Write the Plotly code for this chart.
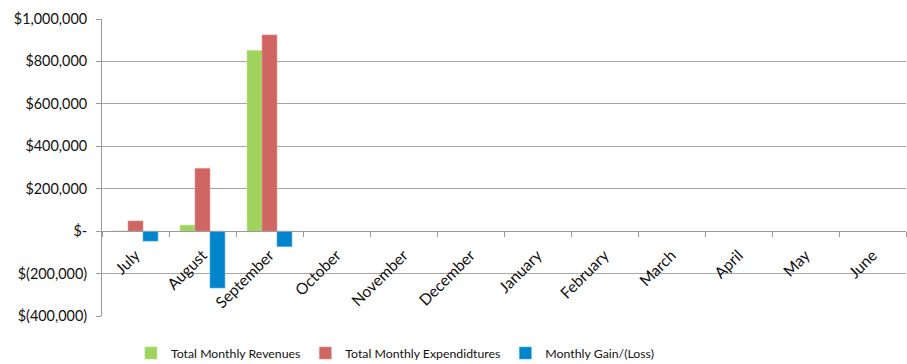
import plotly.graph_objects as go

months = ["July", "August", "September", "October", "November", "December",
          "January", "February", "March", "April", "May", "June"]
revenues = [0, 28000, 852000, None, None, None, None, None, None, None, None, None]
expenditures = [48000, 296000, 925000, None, None, None, None, None, None, None, None, None]
gain = [-47000, -268000, -73000, None, None, None, None, None, None, None, None, None]

ytick_vals = [1000000, 800000, 600000, 400000, 200000, 0, -200000, -400000]
ytick_text = ["$1,000,000", "$800,000", "$600,000", "$400,000", "$200,000", "$-",
              "$(200,000)", "$(400,000)"]

font = "Lato, 'Open Sans', sans-serif"

fig = go.Figure()
fig.add_trace(go.Bar(x=months, y=revenues, name="Total Monthly Revenues",
                     marker=dict(color="#9ED45C", line=dict(color="#B5E08A", width=0.6))))
fig.add_trace(go.Bar(x=months, y=expenditures, name="Total Monthly Expendidtures",
                     marker=dict(color="#CF6661", line=dict(color="#E09490", width=0.6))))
fig.add_trace(go.Bar(x=months, y=gain, name="Monthly Gain/(Loss)",
                     marker=dict(color="#0084CC", line=dict(color="#5AB0E0", width=0.6))))

ymin, ymax = -400000, 1000000
fig.update_layout(
    width=907, height=364,
    margin=dict(l=102, r=1, t=19, b=48, autoexpand=False),
    paper_bgcolor="white", plot_bgcolor="white",
    barmode="group", bargap=0.33, bargroupgap=0,
    font=dict(family=font, size=13, color="#111111"),
    showlegend=True,
    legend=dict(orientation="h", x=0.036, xanchor="left", y=-0.1246, yanchor="middle",
                font=dict(size=12.3), itemwidth=30, traceorder="normal"),
    xaxis=dict(type="category", anchor="free", automargin=False,
               position=(0 - ymin) / (ymax - ymin),
               showline=True, linecolor="#9a9a9a", linewidth=1,
               ticks="outside", tickson="boundaries", ticklen=5, tickcolor="#9a9a9a",
               tickangle=-45, showgrid=False, zeroline=False,
               ticklabelstandoff=8,
               tickfont=dict(size=15.6)),
    yaxis=dict(range=[ymin, ymax], tickvals=ytick_vals, ticktext=ytick_text,
               automargin=False,
               showgrid=True, gridcolor="#a6a6a6", gridwidth=1,
               showline=True, linecolor="#9a9a9a", linewidth=1,
               ticks="outside", ticklen=5, tickcolor="#9a9a9a",
               ticklabelstandoff=6,
               zeroline=True, zerolinecolor="#9a9a9a", zerolinewidth=1,
               tickfont=dict(size=14.4)),
)

fig.write_html("out.html")
